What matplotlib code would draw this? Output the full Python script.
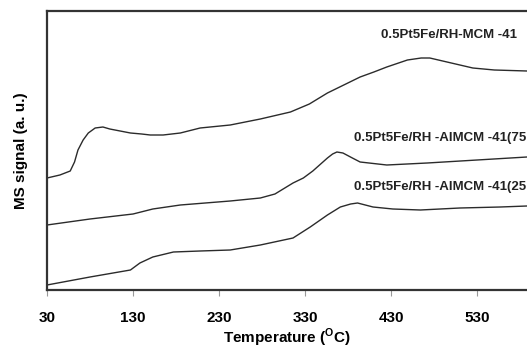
import matplotlib
matplotlib.use('Agg')
import matplotlib.pyplot as plt

plt.rcParams['font.family'] = ['Liberation Sans', 'DejaVu Sans']
plt.rcParams['mathtext.fontset'] = 'custom'
plt.rcParams['mathtext.rm'] = 'Liberation Sans'
plt.rcParams['mathtext.bf'] = 'Liberation Sans:bold'

# temperature (C) and MS signal (a.u.)
t_mcm = [30, 45, 57, 62, 66, 72, 78, 86, 95, 103, 115, 127, 140, 150, 165, 185,
         208, 243, 278, 313, 335, 356, 375, 394, 410, 425, 449, 465, 475, 485,
         495, 510, 525, 550, 588]
s_mcm = [112, 115, 119, 128, 140, 150, 157, 162, 163, 161, 159, 157, 156, 155,
         155, 157, 162, 165, 171, 178, 186, 197, 205, 213, 218, 223, 230, 232,
         232, 230, 228, 225, 222, 220, 219]

t_75 = [30, 80, 130, 153, 185, 243, 278, 295, 316, 328, 339, 356, 362, 367,
        374, 385, 394, 425, 472, 530, 588]
s_75 = [65, 71, 76, 81, 85, 89, 92, 96, 107, 112, 119, 132, 136, 138, 137,
        132, 128, 125, 127, 130, 133]

t_25 = [30, 80, 127, 138, 153, 177, 208, 243, 278, 316, 336, 356, 371, 383,
        391, 409, 432, 464, 510, 557, 588]
s_25 = [5, 13, 20, 27, 33, 38, 39, 40, 45, 52, 63, 75, 83, 86, 87, 83, 81,
        80, 82, 83, 84]

# labels as far as they are visible (the right side of the figure is cropped)
labels = ['0.5Pt5Fe/RH-MCM -41', '0.5Pt5Fe/RH -AlMCM -41(75',
          '0.5Pt5Fe/RH -AlMCM -41(25']
label_pos = [(418, 255, 'left'), (587, 152, 'right'), (587, 103, 'right')]
xticks = [30, 130, 230, 330, 430, 530]

fig = plt.figure(figsize=(5.27, 3.48), dpi=100)
ax = fig.add_axes([47 / 527, 1 - 290 / 348, 1 - 47 / 527, 279 / 348])

for t, s in [(t_mcm, s_mcm), (t_75, s_75), (t_25, s_25)]:
    ax.plot(t, s, color='#2b2b2b', lw=1.0)

for txt, (x, y, ha) in zip(labels, label_pos):
    ax.text(x, y, txt, fontsize=9.5, fontweight='bold', color='#222222',
            ha=ha, va='center')

ax.set_xlim(30, 588)
ax.set_ylim(0, 279)
ax.set_xticks(xticks)
ax.set_xticklabels([str(v) for v in xticks], fontsize=11, fontweight='bold')
ax.set_yticks([])
ax.tick_params(axis='x', length=4, width=0.8, color='#999999', pad=11)
for side in ['left', 'bottom', 'top']:
    ax.spines[side].set_linewidth(1.6)
    ax.spines[side].set_color('#333333')
ax.spines['right'].set_visible(False)

ax.set_xlabel(r'Temperature ($^{\mathbf{O}}$C)', fontsize=11, fontweight='bold',
              labelpad=1)
ax.set_ylabel('MS signal (a. u.)', fontsize=11, fontweight='bold', labelpad=14)

fig.savefig('out.png', dpi=100)
